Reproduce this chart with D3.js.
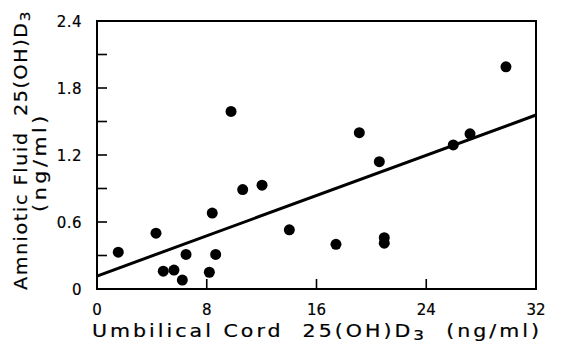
<!DOCTYPE html>
<html>
<head>
<meta charset="utf-8">
<script src="https://cdn.jsdelivr.net/npm/d3@7"></script>
<style>
  html, body { margin: 0; padding: 0; background: #fff; }
  svg { display: block; }
  text { font-family: "DejaVu Sans", "Liberation Sans", sans-serif; fill: #000; stroke: #000; stroke-width: 0.2px; }
</style>
</head>
<body>
<svg id="chart" width="562" height="346"></svg>
<script>
// Data
const cordValues = [1.55, 4.30, 4.83, 5.61, 6.22, 6.49, 8.19, 8.40, 8.65, 9.77, 10.62, 12.03, 14.02, 17.42, 19.12, 20.58, 20.94, 20.94, 25.97, 27.19, 29.81];
const fluidValues = [0.33, 0.50, 0.16, 0.17, 0.08, 0.31, 0.15, 0.68, 0.31, 1.59, 0.89, 0.93, 0.53, 0.40, 1.40, 1.14, 0.46, 0.41, 1.29, 1.39, 1.99];
const fitX = [0, 32];
const fitY = [0.116, 1.558];
const xTicks = [0, 8, 16, 24, 32];
const yTicks = [0, 0.6, 1.2, 1.8, 2.4];
const yMinorTicks = [0.3, 0.6, 0.9, 1.2, 1.5, 1.8, 2.1];
const xInnerTicks = [8, 16, 24];

const svg = d3.select("#chart");
const pLeft = 97, pRight = 536, pTop = 21, pBottom = 289;

const x = d3.scaleLinear().domain([0, 32]).range([pLeft, pRight]);
const y = d3.scaleLinear().domain([0, 2.4]).range([pBottom, pTop]);

// Frame
svg.append("rect")
  .attr("x", pLeft).attr("y", pTop)
  .attr("width", pRight - pLeft).attr("height", pBottom - pTop)
  .attr("fill", "none").attr("stroke", "#000").attr("stroke-width", 2);

// Inward ticks on left axis
svg.append("g").selectAll("line").data(yMinorTicks).join("line")
  .attr("x1", pLeft).attr("x2", pLeft + 10)
  .attr("y1", d => y(d)).attr("y2", d => y(d))
  .attr("stroke", "#000").attr("stroke-width", 1.6);

// Inward ticks on bottom axis
svg.append("g").selectAll("line").data(xInnerTicks).join("line")
  .attr("x1", d => x(d)).attr("x2", d => x(d))
  .attr("y1", pBottom).attr("y2", pBottom - 10)
  .attr("stroke", "#000").attr("stroke-width", 1.6);

// Tick labels
svg.append("g").selectAll("text").data(xTicks).join("text")
  .attr("x", d => x(d)).attr("y", 315)
  .attr("text-anchor", "middle")
  .attr("font-size", 15)
  .text(d => d);

svg.append("g").selectAll("text").data(yTicks).join("text")
  .attr("x", 82).attr("y", d => y(d) + 5.5)
  .attr("text-anchor", "end")
  .attr("font-size", 15)
  .attr("letter-spacing", 0.5)
  .text(d => d === 0 ? "0" : d.toFixed(1));

// Regression line
const line = d3.line().x(d => x(d[0])).y(d => y(d[1]));
svg.append("path")
  .datum(fitX.map((v, i) => [v, fitY[i]]))
  .attr("d", line)
  .attr("fill", "none").attr("stroke", "#000").attr("stroke-width", 3);

// Points
svg.append("g").selectAll("circle").data(cordValues.map((v, i) => [v, fluidValues[i]])).join("circle")
  .attr("cx", d => x(d[0])).attr("cy", d => y(d[1]))
  .attr("r", 5.5)
  .attr("fill", "#000");

// X axis title
const xt = svg.append("text")
  .attr("x", 92).attr("y", 337)
  .attr("font-size", 17)
  .attr("letter-spacing", 2.5)
  .attr("textLength", 450).attr("lengthAdjust", "spacingAndGlyphs")
  .style("white-space", "pre");
xt.append("tspan").text("Umbilical Cord  25(OH)D");
xt.append("tspan").attr("font-size", 14).attr("dy", 3).text("3");
xt.append("tspan").attr("dy", -3).text("  (ng/ml)");

// Y axis title
const yt = svg.append("text")
  .attr("transform", "translate(27,150) rotate(-90)")
  .attr("x", 0).attr("y", 0)
  .attr("text-anchor", "middle")
  .attr("font-size", 17.5)
  .attr("letter-spacing", 1.5)
  .attr("textLength", 280).attr("lengthAdjust", "spacingAndGlyphs")
  .style("white-space", "pre");
yt.append("tspan").text("Amniotic Fluid  25(OH)D");
yt.append("tspan").attr("font-size", 14).attr("dy", 3).text("3");

svg.append("text")
  .attr("transform", "translate(46,162) rotate(-90)")
  .attr("text-anchor", "middle")
  .attr("font-size", 17)
  .attr("letter-spacing", 3)
  .attr("textLength", 100).attr("lengthAdjust", "spacingAndGlyphs")
  .text("(ng/ml)");
</script>
</body>
</html>
